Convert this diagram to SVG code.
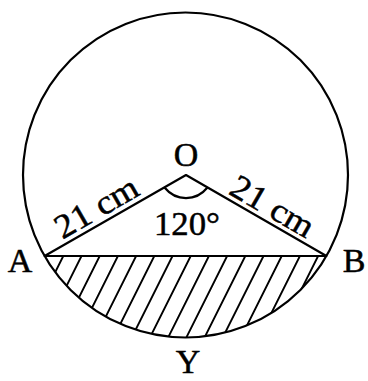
<svg xmlns="http://www.w3.org/2000/svg" width="368" height="381" viewBox="0 0 368 381">
<style>
.ln{fill:none;stroke:#000;stroke-width:2.2;stroke-linecap:round;stroke-linejoin:round}
.ht{fill:none;stroke:#000;stroke-width:1.9}
.lb{font-family:"Liberation Serif","Times New Roman",serif;font-size:34px;fill:#000;stroke:#000;stroke-width:0.5}
</style>
<defs>
<clipPath id="seg"><path d="M44.6,256 L326.4,256 A162.5,162.5 0 0 1 44.6,256 Z"/></clipPath>
</defs>
<rect width="368" height="381" fill="#fff"/>
<g id="circle"><circle class="ln" cx="185.5" cy="175" r="162.5"/></g>
<g id="hatch" clip-path="url(#seg)">
<path class="ht" d="M45,256 l-45,90 M63.3,256 l-45,90 M81.5,256 l-45,90 M99.7,256 l-45,90 M117.9,256 l-45,90 M136.1,256 l-45,90 M154.3,256 l-45,90 M172.5,256 l-45,90 M190.7,256 l-45,90 M208.9,256 l-45,90 M227.1,256 l-45,90 M245.3,256 l-45,90 M263.5,256 l-45,90 M281.7,256 l-45,90 M299.9,256 l-45,90 M318.1,256 l-45,90 M336.3,256 l-45,90 M354.5,256 l-45,90 M372.7,256 l-45,90"/>
</g>
<g id="connectors">
<path class="ln" d="M44.6,256 L186,175 L326.4,256 Z"/>
<path class="ln" d="M165,188 A27,27 0 0 0 207,188"/>
</g>
<g id="O"><text class="lb" x="186" y="166" text-anchor="middle">O</text></g>
<g id="A"><text class="lb" x="20" y="272" text-anchor="middle">A</text></g>
<g id="B"><text class="lb" x="354" y="272" text-anchor="middle">B</text></g>
<g id="Y"><text class="lb" x="188" y="373" text-anchor="middle">Y</text></g>
<g id="angle"><text class="lb" x="187" y="235" text-anchor="middle" textLength="66" lengthAdjust="spacingAndGlyphs">120°</text></g>
<g id="OA-label"><text class="lb" transform="translate(102,217) rotate(-30)" text-anchor="middle" textLength="91" lengthAdjust="spacingAndGlyphs">21 cm</text></g>
<g id="OB-label"><text class="lb" transform="translate(267,216) rotate(30)" text-anchor="middle" textLength="91" lengthAdjust="spacingAndGlyphs">21 cm</text></g>
</svg>
